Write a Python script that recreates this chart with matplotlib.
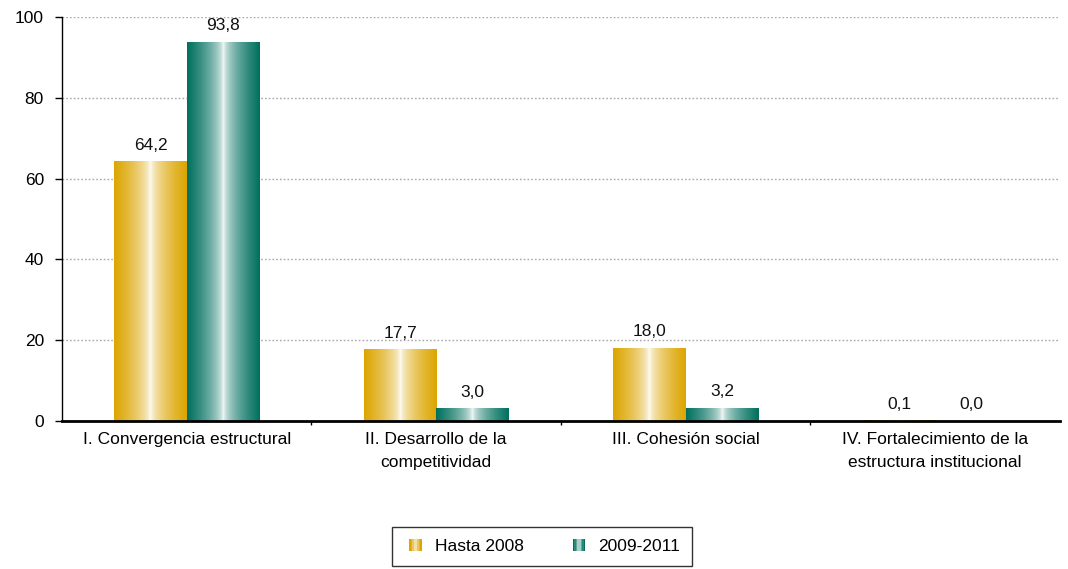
import numpy as np
import matplotlib
matplotlib.use('Agg')
import matplotlib.pyplot as plt
from matplotlib.patches import Rectangle
from matplotlib.legend_handler import HandlerBase
from matplotlib.colors import to_rgb

plt.rcParams['font.family'] = ['Liberation Sans', 'DejaVu Sans']

# Data
categories = ['I. Convergencia estructural', 'II. Desarrollo de la\ncompetitividad',
              'III. Cohesión social', 'IV. Fortalecimiento de la\nestructura institucional']
hasta_2008 = [64.2, 17.7, 18.0, 0.1]
p_2009_2011 = [93.8, 3.0, 3.2, 0.0]
series_names = ['Hasta 2008', '2009-2011']
series_colors = ['#DCA500', '#00705E']

FS = 12.5


def gradient_row(color, n=200):
    c = np.array(to_rgb(color))
    t = np.abs(np.linspace(-1, 1, n)) ** 0.55
    row = 1 - (1 - c)[None, :] * t[:, None]
    return row[None, :, :]


fig = plt.figure(figsize=(10.68, 5.69), dpi=100)
ax = fig.add_axes([0.058, 0.26, 0.9345, 0.71])

x = np.arange(len(categories))
w = 0.29
for vals, color, off in [(hasta_2008, series_colors[0], -w / 2), (p_2009_2011, series_colors[1], w / 2)]:
    img = gradient_row(color)
    for xi, v in zip(x, vals):
        x0, x1 = xi + off - w / 2, xi + off + w / 2
        if v > 0:
            ax.imshow(img, extent=(x0, x1, 0, v), aspect='auto', zorder=2, interpolation='bilinear')
        ax.text(xi + off, v + 2.2, f'{v:.1f}'.replace('.', ','), ha='center', va='bottom',
                fontsize=FS, color='#111111')

ax.set_xlim(-0.5, len(categories) - 0.5)
ax.set_ylim(0, 100)
ax.set_yticks(range(0, 101, 20))
ax.set_xticks(np.arange(0.5, len(categories) - 1, 1))
ax.set_xticklabels([])
for xi, lab in zip(x, categories):
    ax.text(xi, -2.8, lab, ha='center', va='top', fontsize=FS, linespacing=1.6)

ax.grid(axis='y', linestyle=(0, (1.2, 1.5)), color='#A8A8A8', linewidth=1.0, zorder=0)
ax.set_axisbelow(True)
for s in ['top', 'right']:
    ax.spines[s].set_visible(False)
ax.spines['left'].set_linewidth(1.0)
ax.spines['bottom'].set_linewidth(2.0)
ax.tick_params(axis='y', labelsize=FS, length=5, width=1.0, direction='out', pad=8)
ax.tick_params(axis='x', length=3, width=1.0, direction='out')


class GradHandler(HandlerBase):
    def __init__(self, color):
        super().__init__()
        self.color = color

    def create_artists(self, legend, orig_handle, xdescent, ydescent, width, height, fontsize, trans):
        row = gradient_row(self.color, 8)[0]
        arts = []
        bw = 9.0 / len(row)
        x0 = width - 11
        for i, c in enumerate(row):
            arts.append(Rectangle((x0 + i * bw - xdescent, -ydescent), bw, height,
                                  facecolor=c, edgecolor='none', transform=trans))
        return arts


h1 = Rectangle((0, 0), 1, 1)
h2 = Rectangle((0, 1), 1, 1)
leg = fig.legend([h1, h2], series_names, loc='center', bbox_to_anchor=(0.5075, 0.04), ncol=2,
                 handler_map={h1: GradHandler(series_colors[0]), h2: GradHandler(series_colors[1])},
                 frameon=True, fancybox=False, edgecolor='black', fontsize=FS,
                 handlelength=1.2, handletextpad=0.6, columnspacing=2.5, borderpad=0.7,
                 borderaxespad=0)
leg.get_frame().set_linewidth(1.0)

fig.savefig('out.png', dpi=100)
